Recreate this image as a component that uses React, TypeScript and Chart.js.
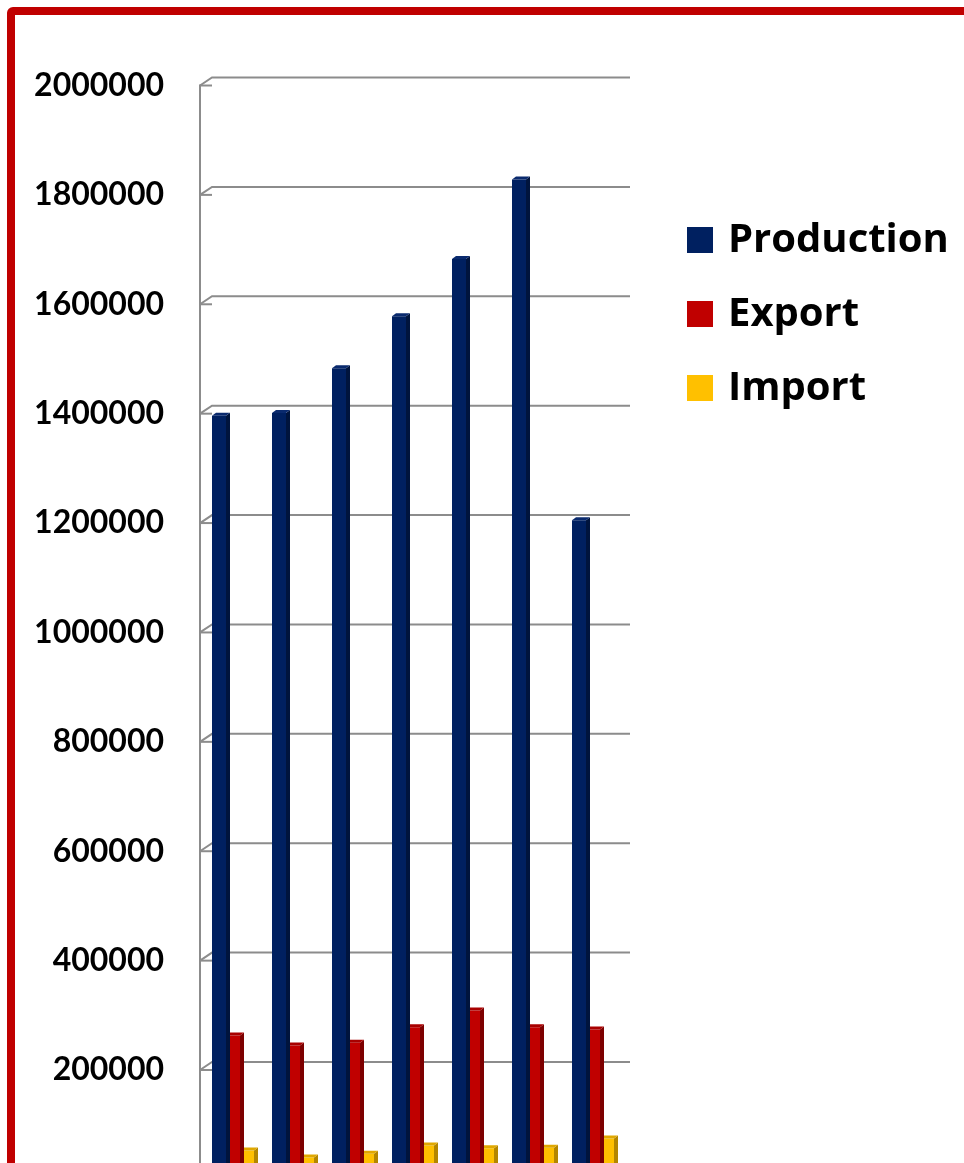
import React, { useEffect, useRef } from "react";
import { Chart, registerables } from "chart.js";

Chart.register(...registerables);

const categories = ["1", "2", "3", "4", "5", "6", "7"];
const seriesNames = ["Production", "Export", "Import"];
const production = [1396000, 1401000, 1483000, 1578000, 1683000, 1828000, 1205000];
const exportVals = [263000, 245000, 250000, 278000, 309000, 278000, 274000];
const importVals = [53000, 40000, 47000, 62000, 57000, 58000, 75000];
const yMin = 0;
const yMax = 2000000;
const yStep = 200000;

const frontColors = ["#002060", "#C00000", "#FFC000"];
const sideColors = ["#00143d", "#7d0000", "#b38600"];
const topColors = ["#0a2a6e", "#a80000", "#e0a800"];

const CANVAS_W = 1000;
const CANVAS_H = 1250;
const DX = 4;
const DY = 3;

const gridPlugin = {
  id: "grid3d",
  beforeDatasetsDraw(chart: any) {
    const { ctx, chartArea, scales } = chart;
    const ys = scales.y;
    const axisX = chartArea.left - 3;
    const backRight = chartArea.right + 7;
    ctx.save();
    ctx.strokeStyle = "#8c8c8c";
    ctx.lineWidth = 2;
    ys.ticks.forEach((t: any) => {
      const y = ys.getPixelForValue(t.value);
      ctx.beginPath();
      ctx.moveTo(axisX, y);
      ctx.lineTo(axisX + 12, y - 8);
      ctx.lineTo(backRight, y - 8);
      ctx.stroke();
      ctx.beginPath();
      ctx.moveTo(axisX, y);
      ctx.lineTo(axisX + 12, y);
      ctx.stroke();
    });
    ctx.beginPath();
    ctx.moveTo(axisX, ys.getPixelForValue(yMax) - 1);
    ctx.lineTo(axisX, chartArea.bottom);
    ctx.stroke();
    ctx.restore();
  },
};

const bar3dPlugin = {
  id: "bar3d",
  afterDatasetDraw(chart: any, args: any) {
    const { ctx } = chart;
    const i = args.index;
    ctx.save();
    args.meta.data.forEach((el: any) => {
      const { x, y, base, width } = el.getProps(["x", "y", "base", "width"], true);
      const l = x - width / 2;
      const r = x + width / 2;
      ctx.fillStyle = sideColors[i];
      ctx.beginPath();
      ctx.moveTo(r, y);
      ctx.lineTo(r + DX, y - DY);
      ctx.lineTo(r + DX, base - DY);
      ctx.lineTo(r, base);
      ctx.closePath();
      ctx.fill();
      ctx.fillStyle = topColors[i];
      ctx.beginPath();
      ctx.moveTo(l, y);
      ctx.lineTo(l + DX, y - DY);
      ctx.lineTo(r + DX, y - DY);
      ctx.lineTo(r, y);
      ctx.closePath();
      ctx.fill();
    });
    ctx.restore();
  },
};

const legendPlugin = {
  id: "customLegend",
  afterDraw(chart: any) {
    const { ctx } = chart;
    const boxX = 672;
    const firstY = 225;
    const rowGap = 74;
    const box = 26;
    ctx.save();
    ctx.font = "bold 40px 'Open Sans'";
    ctx.textBaseline = "middle";
    ctx.textAlign = "left";
    chart.data.datasets.forEach((ds: any, i: number) => {
      const cy = firstY + i * rowGap;
      ctx.fillStyle = frontColors[i];
      ctx.fillRect(boxX, cy - box / 2, box, box);
      ctx.fillStyle = "#000000";
      ctx.fillText(ds.label, boxX + 41, cy + 1);
    });
    ctx.restore();
  },
};

export default function App() {
  const ref = useRef<HTMLCanvasElement | null>(null);
  useEffect(() => {
    if (!ref.current) return;
    const chart = new Chart(ref.current, {
      type: "bar",
      data: {
        labels: categories,
        datasets: [
          { label: seriesNames[0], data: production, backgroundColor: frontColors[0] },
          { label: seriesNames[1], data: exportVals, backgroundColor: frontColors[1] },
          { label: seriesNames[2], data: importVals, backgroundColor: frontColors[2] },
        ],
      },
      options: {
        responsive: false,
        animation: false,
        events: [],
        layout: { padding: { top: 70.5, bottom: CANVAS_H - 1164.4, left: 0, right: CANVAS_W - 608 } },
        datasets: { bar: { barPercentage: 1, categoryPercentage: 0.7 } },
        plugins: { legend: { display: false }, tooltip: { enabled: false } },
        scales: {
          x: { display: false },
          y: {
            min: yMin,
            max: yMax,
            afterFit: (s: any) => {
              s.width = 188;
            },
            ticks: {
              stepSize: yStep,
              padding: 39,
              color: "#000000",
              font: { family: "Lato", size: 32, weight: "bold" },
              callback: (v: any) => String(v),
            },
            grid: { display: false, drawTicks: false },
            border: { display: false },
          },
        },
      },
      plugins: [gridPlugin, bar3dPlugin, legendPlugin],
    });
    return () => chart.destroy();
  }, []);
  return (
    <div style={{ position: "fixed", left: 0, top: 0, width: "100vw", height: "100vh", overflow: "hidden", background: "#fff" }}>
      <div
        style={{
          position: "absolute",
          left: 7,
          top: 7,
          width: CANVAS_W,
          height: CANVAS_H,
          border: "8px solid #C00000",
          borderRadius: 6,
          background: "#fff",
        }}
      >
        <canvas ref={ref} width={CANVAS_W} height={CANVAS_H} style={{ display: "block", width: CANVAS_W, height: CANVAS_H }} />
      </div>
    </div>
  );
}
